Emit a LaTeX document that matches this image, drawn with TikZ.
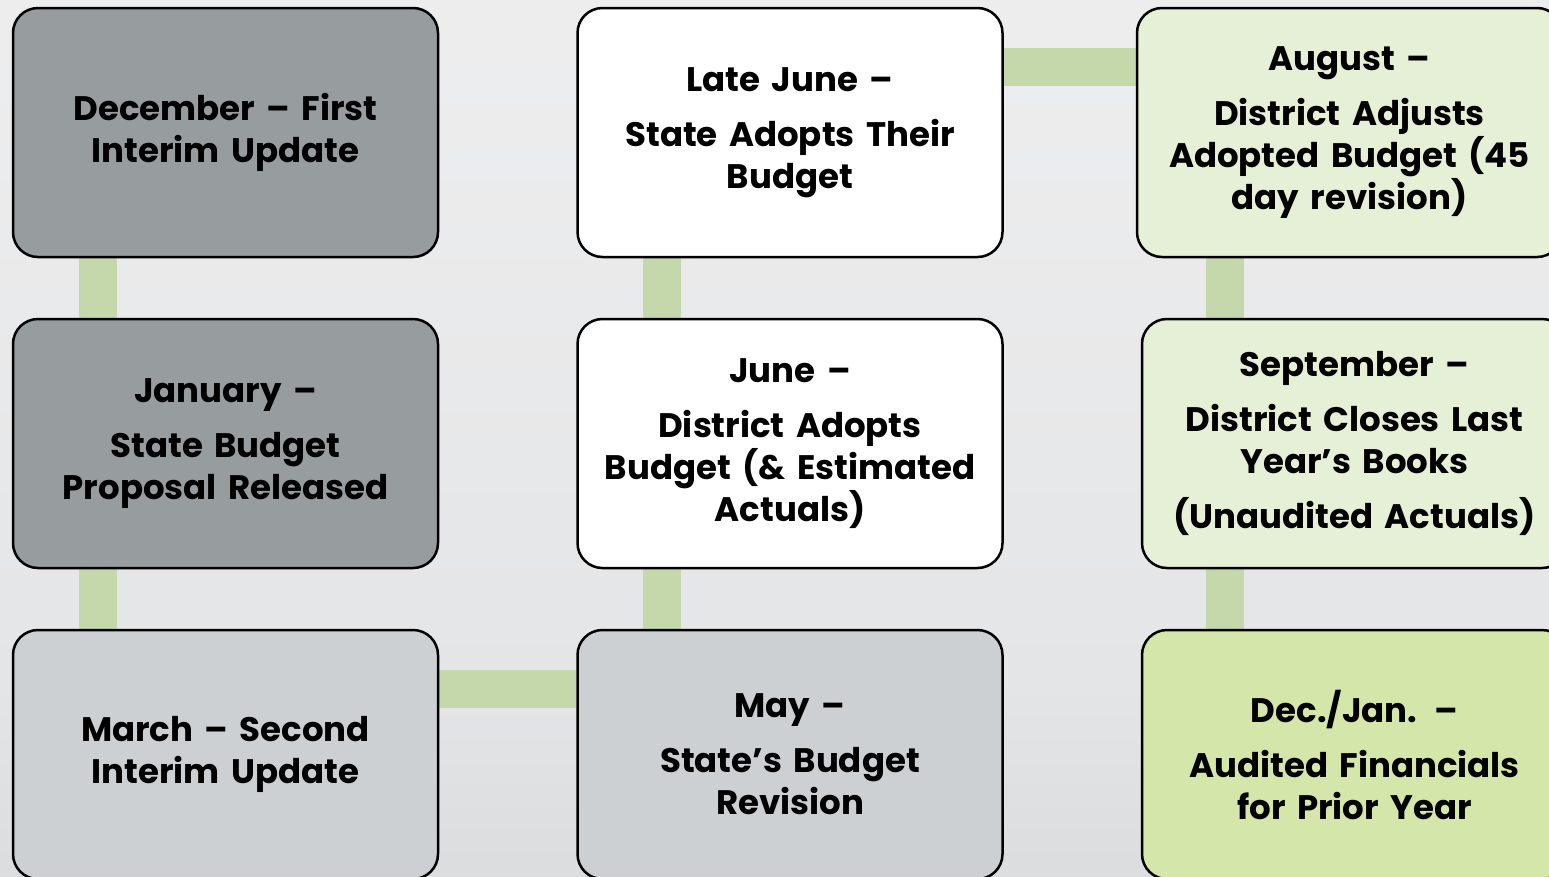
\documentclass[tikz,border=0pt]{standalone}
\usepackage{fontspec}
\setmainfont{Poppins}
\usetikzlibrary{calc}
\definecolor{bgtop}{HTML}{F0F0F1}
\definecolor{bgmid}{HTML}{E4E5E6}
\definecolor{bgbot}{HTML}{C6C9CC}
\definecolor{greydark}{HTML}{979C9F}
\definecolor{greylight}{HTML}{CDD0D2}
\definecolor{greenpale}{HTML}{E6F0D6}
\definecolor{greenlime}{HTML}{D4E6A9}
\definecolor{linkgreen}{HTML}{C5D8AC}
\pgfdeclareverticalshading{backdrop}{100bp}{
  color(0bp)=(bgbot); color(36bp)=(bgmid); color(70bp)=(bgtop!70!bgmid); color(100bp)=(bgtop)}
\pgfdeclarelayer{back}
\pgfdeclarelayer{links}
\pgfsetlayers{back,links,main}
\tikzset{
  stage/.style={draw=black, line width=2.5pt, rounded corners=25pt,
    minimum width=425pt, minimum height=249pt, inner sep=0pt,
    align=center, text width=415pt,
    font=\fontsize{34}{42}\selectfont\bfseries},
  link/.style={draw=linkgreen, line width=38pt, line cap=butt}
}
\newcommand{\gap}{\\[13pt]}
\begin{document}
\begin{tikzpicture}[x=1pt, y=-1pt]
  \useasboundingbox (0,0) rectangle (1549,876);
  \begin{pgfonlayer}{back}
    \shade[shading=backdrop] (0,0) rectangle (1549,876);
  \end{pgfonlayer}

  % first column
  \node[stage, fill=greydark]  (dec) at (225.5,132.5) {December -- First\\Interim Update};
  \node[stage, fill=greydark]  (jan) at (225.5,443.5) {January --\gap State Budget\\Proposal Released};
  \node[stage, fill=greylight] (mar) at (225.5,754.5) {March -- Second\\Interim Update};

  % second column
  \node[stage, fill=white]     (late) at (790,132.5) {Late June --\gap State Adopts Their\\Budget};
  \node[stage, fill=white]     (jun)  at (790,443.5) {June --\gap District Adopts\\Budget (\& Estimated\\Actuals)};
  \node[stage, fill=greylight] (may)  at (790,754.5) {May --\gap State’s Budget\\Revision};

  % third column
  \node[stage, fill=greenpale] (aug) at (1349.5,132.5) {August --\gap District Adjusts\\Adopted Budget (45\\day revision)};
  \node[stage, fill=greenpale] (sep) at (1354.5,443.5) {September --\gap District Closes Last\\Year’s Books\gap (Unaudited Actuals)};
  \node[stage, fill=greenlime] (dj)  at (1354.5,754.5) {Dec./Jan. --\gap Audited Financials\\for Prior Year};

  % connecting bands
  \coordinate (a1) at ($(dec.south west)+(86,0)$);
  \coordinate (a2) at ($(jan.south west)+(86,0)$);
  \coordinate (b1) at ($(may.north west)+(86,0)$);
  \coordinate (b2) at ($(jun.north west)+(86,0)$);
  \coordinate (c1) at ($(aug.south west)+(89,0)$);
  \coordinate (c2) at ($(sep.south west)+(84,0)$);
  \coordinate (h1) at ($(mar.north east)+(0,60)$);
  \coordinate (h2) at ($(late.north east)+(0,60.5)$);
  \begin{pgfonlayer}{links}
    \draw[link] (a1) -- (a1 |- jan.north);
    \draw[link] (a2) -- (a2 |- mar.north);
    \draw[link] (h1) -- (h1 -| may.west);
    \draw[link] (b1) -- (b1 |- jun.south);
    \draw[link] (b2) -- (b2 |- late.south);
    \draw[link] (h2) -- (h2 -| aug.west);
    \draw[link] (c1) -- (c1 |- sep.north);
    \draw[link] (c2) -- (c2 |- dj.north);
  \end{pgfonlayer}
\end{tikzpicture}
\end{document}
